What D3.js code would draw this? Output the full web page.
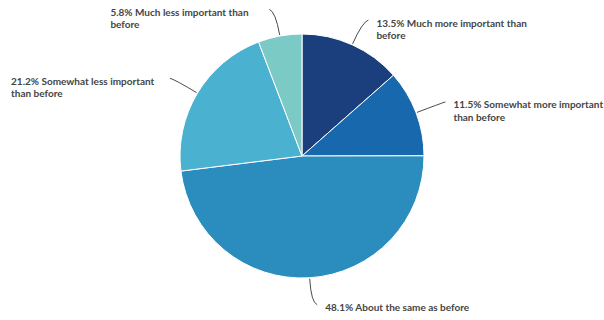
<!DOCTYPE html>
<html>
<head>
<meta charset="utf-8">
<script src="https://cdn.jsdelivr.net/npm/d3@7"></script>
<style>
  html, body { margin: 0; padding: 0; background: #fff; }
  svg { display: block; }
  .lbl { font-family: Lato, "Open Sans", sans-serif; font-weight: 700; font-size: 10px; fill: #454545; }
  .conn { fill: none; stroke: #4a4a4a; stroke-width: 1; }
</style>
</head>
<body>
<svg id="chart" width="604" height="320"></svg>
<script>
// Share of responses per answer, clockwise from 12 o'clock
const categories = [
  "Much more important than before",
  "Somewhat more important than before",
  "About the same as before",
  "Somewhat less important than before",
  "Much less important than before"
];
const values = [13.5, 11.5, 48.1, 21.2, 5.8];
// Number of words of each answer kept on the label's first line
const lineBreakAfter = [4, 3, 99, 3, 4];
const colors = ["#1b3f7d", "#1768ac", "#2b8cbe", "#4bb1d1", "#7ccac5"];

const width = 604, height = 320;
const cx = 302, cy = 156, radius = 122;

const svg = d3.select("#chart");
const g = svg.append("g").attr("transform", `translate(${cx},${cy})`);

const data = values.map((v, i) => ({ name: categories[i], value: v, color: colors[i], brk: lineBreakAfter[i] }));

const pie = d3.pie().value(d => d.value).sort(null).startAngle(0).endAngle(2 * Math.PI);
const arc = d3.arc().innerRadius(0).outerRadius(radius);
const arcs = pie(data);

g.selectAll("path.slice")
  .data(arcs)
  .join("path")
  .attr("class", "slice")
  .attr("d", arc)
  .attr("fill", d => d.data.color)
  .attr("stroke", "#ffffff")
  .attr("stroke-width", 1)
  .attr("stroke-linejoin", "round");

const pt = (a, r) => [Math.sin(a) * r, -Math.cos(a) * r];

arcs.forEach(d => {
  const a = (d.startAngle + d.endAngle) / 2;
  const right = Math.sin(a) >= 0;
  const p0 = pt(a, radius + 1);
  const c = pt(a, radius + 25);
  const end = [c[0] + (right ? 6 : -6), c[1] + (Math.cos(a) > 0 ? -2 : 2)];

  g.append("path")
    .attr("class", "conn")
    .attr("d", `M${p0[0]},${p0[1]} Q${c[0]},${c[1]} ${end[0]},${end[1]}`);

  const words = (d.data.value.toFixed(1) + "% " + d.data.name).split(" ");
  const n = d.data.brk + 1;
  const lines = [words.slice(0, n).join(" "), words.slice(n).join(" ")].filter(s => s.length);

  const tx = right ? end[0] + 8 : end[0] - 159;
  const text = g.append("text").attr("class", "lbl")
    .attr("x", tx).attr("y", end[1] + 6.5);
  lines.forEach((ln, i) => {
    text.append("tspan").attr("x", tx).attr("dy", i === 0 ? 0 : 12.5).text(ln);
  });
});
</script>
</body>
</html>
